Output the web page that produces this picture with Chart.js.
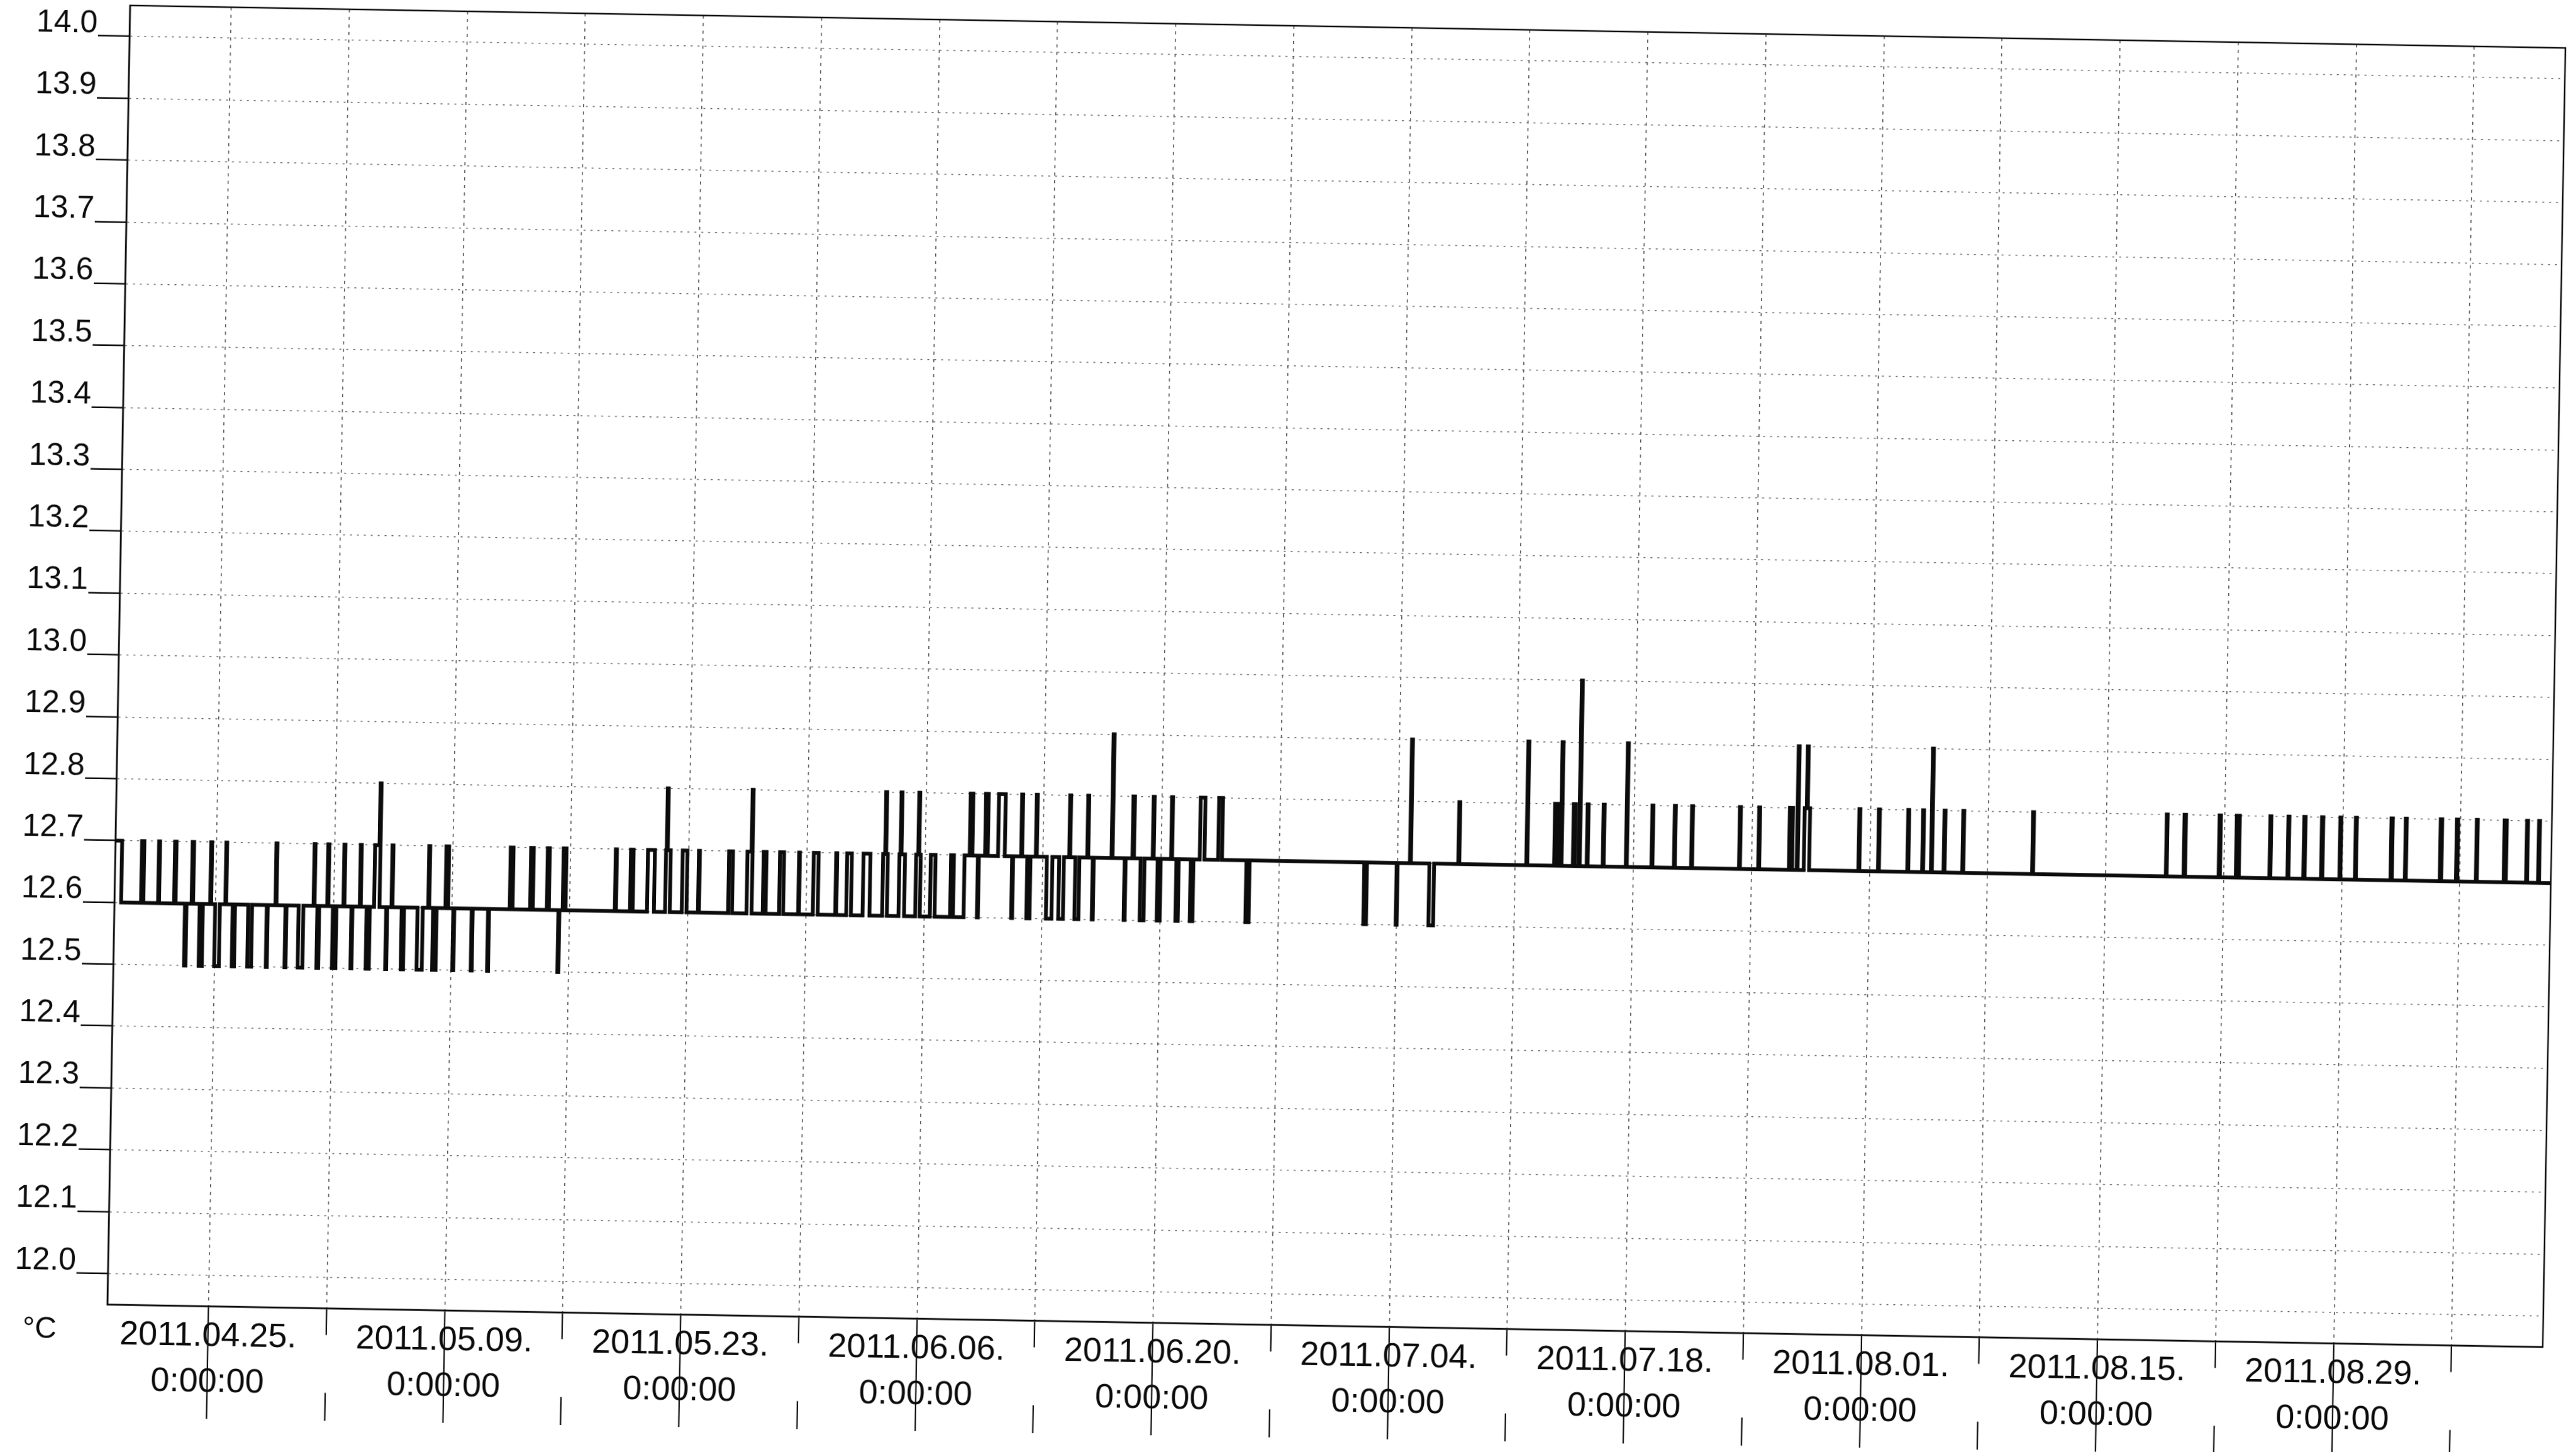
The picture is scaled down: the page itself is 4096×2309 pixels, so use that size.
<!DOCTYPE html>
<html>
<head>
<meta charset="utf-8">
<script src="https://cdn.jsdelivr.net/npm/chart.js"></script>
<style>
  html, body { margin: 0; padding: 0; background: #ffffff; overflow: hidden; }
  #wrap { width: 4096px; height: 2309px; position: relative; }
  #c { position: absolute; left: 0; top: 0; width: 4096px; height: 2309px;
       transform: rotate(1deg); transform-origin: 50% 50%; }
</style>
</head>
<body>
<div id="wrap"><canvas id="c" width="4096" height="2309"></canvas></div>
<script>
// x = days since 2011.04.25 0:00:00, y = temperature in °C (step changes)
const stepsApr = [
  [-6.0,12.7],[-5.6,12.6],[-4.42,12.7],[-4.28,12.6],[-3.41,12.7],[-3.35,12.6],
  [-2.46,12.7],[-2.37,12.6],[-1.81,12.5],[-1.72,12.6],[-1.42,12.7],[-1.33,12.6],
  [-0.94,12.5],[-0.75,12.6],[-0.32,12.7],[-0.26,12.6],[-0.02,12.5],[0.26,12.6],
  [0.58,12.7],[0.63,12.6],[1.02,12.5],[1.16,12.6],[1.94,12.5],[2.17,12.6],
  [3.04,12.5],[3.10,12.6],[3.55,12.7],[3.61,12.6],[4.15,12.5],[4.21,12.6],
  [4.93,12.5],[5.21,12.6],[5.81,12.7],[5.87,12.6]
];
const stepsMay = [
  [6.04,12.5],[6.15,12.6],[6.62,12.7],[6.69,12.6],[6.96,12.5],[7.17,12.6],
  [7.58,12.7],[7.64,12.6],[8.06,12.5],[8.12,12.6],[8.55,12.7],[8.61,12.6],
  [8.96,12.5],[9.15,12.6],[9.40,12.7],[9.66,12.8],[9.72,12.6],
  [10.12,12.5],[10.18,12.6],[10.43,12.7],[10.49,12.6],[11.04,12.5],[11.18,12.6],
  [11.98,12.5],[12.29,12.6],[12.61,12.7],[12.67,12.6],[12.90,12.5],[13.11,12.6],
  [13.63,12.7],[13.79,12.6],[14.10,12.5],[14.16,12.6],[15.19,12.5],[15.25,12.6],
  [16.16,12.5],[16.22,12.6],[17.44,12.7],[17.61,12.6],[18.65,12.7],[18.81,12.6],
  [19.64,12.7],[19.76,12.6],[20.33,12.5],[20.39,12.6],[20.58,12.7],[20.75,12.6],
  [23.67,12.7],[23.74,12.6],[24.57,12.7],[24.73,12.6],[25.58,12.7],[25.99,12.6],
  [26.65,12.7],[26.69,12.8],[26.75,12.7],[26.93,12.6],[27.64,12.7],[27.92,12.6],
  [28.60,12.7],[28.66,12.6],[30.39,12.7],[30.62,12.6],
  [31.48,12.7],[31.72,12.8],[31.78,12.6],[32.44,12.7],[32.61,12.6],
  [33.41,12.7],[33.65,12.6],[34.54,12.7],[34.59,12.6],[35.41,12.7],[35.70,12.6],
  [36.74,12.7],[36.80,12.6]
];
const stepsJun = [
  [37.39,12.7],[37.67,12.6],[38.36,12.7],[38.77,12.6],
  [39.52,12.7],[39.64,12.8],[39.70,12.7],[39.80,12.6],
  [40.49,12.7],[40.55,12.8],[40.61,12.7],[40.82,12.6],
  [41.48,12.7],[41.60,12.8],[41.66,12.7],[41.75,12.6],
  [42.35,12.7],[42.63,12.6],[43.55,12.7],[43.72,12.6],
  [44.35,12.7],[44.65,12.8],[44.81,12.7],[45.14,12.6],[45.20,12.7],
  [45.56,12.8],[45.72,12.7],[46.33,12.8],[46.73,12.7],[47.17,12.6],[47.23,12.7],
  [47.70,12.8],[47.76,12.7],[48.07,12.6],[48.26,12.7],[48.57,12.8],[48.63,12.7],
  [49.23,12.6],[49.56,12.7],[49.96,12.6],[50.24,12.7],[50.55,12.8],[50.61,12.7],
  [50.92,12.6],[51.16,12.7],[51.62,12.8],[51.68,12.7],[51.95,12.6],[52.01,12.7],
  [53.06,12.9],[53.12,12.7],[53.84,12.6],[53.90,12.7],[54.30,12.8],[54.39,12.7],
  [54.79,12.6],[55.02,12.7],[55.50,12.8],[55.56,12.7],[55.80,12.6],[55.98,12.7],
  [56.59,12.8],[56.65,12.7],[56.91,12.6],[57.05,12.7],[57.76,12.6],[57.92,12.7],
  [58.29,12.8],[58.57,12.7],[59.38,12.8],[59.61,12.7],[61.06,12.6],[61.25,12.7]
];
const stepsJul = [
  [68.05,12.6],[68.21,12.7],[69.97,12.6],[70.03,12.7],[70.75,12.9],[70.81,12.7],
  [71.91,12.6],[72.19,12.7],[73.62,12.8],[73.68,12.7],[77.65,12.9],[77.71,12.7],
  [79.30,12.8],[79.49,12.7],[79.68,12.9],[79.74,12.7],[80.41,12.8],[80.53,12.7],
  [80.76,13.0],[80.82,12.7],[81.23,12.8],[81.29,12.7],[82.18,12.8],[82.24,12.7],
  [83.55,12.9],[83.61,12.7],[85.07,12.8],[85.13,12.7],[86.40,12.8],[86.46,12.7],
  [87.42,12.8],[87.48,12.7],[90.26,12.8],[90.32,12.7],[91.40,12.8],[91.46,12.7],
  [93.22,12.8],[93.41,12.7],[93.68,12.9],[93.74,12.7],
  [94.10,12.8],[94.22,12.9],[94.28,12.8],[94.42,12.7],[97.34,12.8],[97.40,12.7]
];
const stepsAug = [
  [98.50,12.8],[98.56,12.7],[100.24,12.8],[100.30,12.7],[101.12,12.8],[101.18,12.7],
  [101.64,12.9],[101.70,12.7],[102.39,12.8],[102.45,12.7],[103.50,12.8],[103.56,12.7],
  [107.64,12.8],[107.70,12.7],[115.57,12.8],[115.62,12.7],[116.62,12.8],[116.71,12.7],
  [118.70,12.8],[118.78,12.7],[119.72,12.8],[119.90,12.7],[121.71,12.8],[121.77,12.7],
  [122.78,12.8],[122.84,12.7],[123.72,12.8],[123.80,12.7],[124.77,12.8],[124.85,12.7],
  [125.86,12.8],[125.92,12.7],[126.78,12.8],[126.84,12.7],[128.89,12.8],[128.97,12.7]
];
const stepsSep = [
  [129.74,12.8],[129.80,12.7],[131.81,12.8],[131.90,12.7],[132.77,12.8],[132.85,12.7],
  [133.95,12.8],[134.01,12.7],[135.60,12.8],[135.73,12.7],[136.93,12.8],[136.99,12.7],
  [137.64,12.8],[137.70,12.7],[138.40,12.7]
];

const xTickDays = [0, 7, 14, 21, 28, 35, 42, 49, 56, 63, 70, 77, 84, 91, 98, 105, 112, 119, 126, 133];
const xLabelDates = ['2011.04.25.', '2011.05.09.', '2011.05.23.', '2011.06.06.', '2011.06.20.',
                     '2011.07.04.', '2011.07.18.', '2011.08.01.', '2011.08.15.', '2011.08.29.'];
const xLabelTime = '0:00:00';
const yTicks = [12.0, 12.1, 12.2, 12.3, 12.4, 12.5, 12.6, 12.7, 12.8, 12.9, 13.0,
                13.1, 13.2, 13.3, 13.4, 13.5, 13.6, 13.7, 13.8, 13.9, 14.0];
const unitLabel = '°C';

const allSteps = [].concat(stepsApr, stepsMay, stepsJun, stepsJul, stepsAug, stepsSep);
const points = allSteps.map(p => ({ x: p[0], y: p[1] }));

const INK = '#0c0c0c';
const FONT = '"Liberation Sans", Arial, sans-serif';

const framePlugin = {
  id: 'frame',
  afterDraw(chart) {
    const { ctx, chartArea: a } = chart;
    ctx.save();
    ctx.strokeStyle = INK;
    ctx.lineWidth = 2.5;
    ctx.strokeRect(a.left, a.top, a.right - a.left, a.bottom - a.top);
    ctx.fillStyle = INK;
    ctx.font = '48px ' + FONT;
    ctx.textAlign = 'center';
    ctx.textBaseline = 'middle';
    ctx.fillText(unitLabel, 80, 2149);
    ctx.restore();
  }
};

new Chart(document.getElementById('c'), {
  type: 'line',
  data: {
    datasets: [{
      data: points,
      stepped: true,
      borderColor: INK,
      borderWidth: 6,
      pointRadius: 0,
      fill: false,
      tension: 0
    }]
  },
  options: {
    responsive: false,
    animation: false,
    devicePixelRatio: 1,
    layout: { padding: { top: 41, right: 36, left: 0, bottom: 0 } },
    plugins: { legend: { display: false }, tooltip: { enabled: false } },
    scales: {
      x: {
        type: 'linear',
        min: -6,
        max: 138.4,
        afterBuildTicks(scale) { scale.ticks = xTickDays.map(v => ({ value: v })); },
        afterFit(scale) { scale.height = 202; },
        ticks: {
          autoSkip: false,
          maxRotation: 0,
          minRotation: 0,
          padding: -167,
          color: INK,
          font: { family: FONT, size: 54, lineHeight: 1.35 },
          callback(value) {
            if (value % 14 === 0) return [xLabelDates[value / 14], xLabelTime];
            return '';
          }
        },
        grid: {
          color: '#555555',
          lineWidth: 1.6,
          tickLength: 179,
          tickColor: INK,
          tickWidth: 2.2,
          tickBorderDash: (c) => (c.tick && c.tick.value % 14 !== 0) ? [41, 92, 46, 10] : []
        },
        border: { display: true, color: INK, width: 2.5, dash: [5, 7] }
      },
      y: {
        type: 'linear',
        min: 11.95,
        max: 14.05,
        afterBuildTicks(scale) { scale.ticks = yTicks.map(v => ({ value: v })); },
        afterFit(scale) { scale.width = 187; },
        ticks: {
          padding: 1,
          labelOffset: -19,
          color: INK,
          font: { family: FONT, size: 50 },
          callback(value) { return Number(value).toFixed(1); }
        },
        grid: {
          color: '#606060',
          lineWidth: 1.6,
          tickLength: 50,
          tickColor: INK,
          tickWidth: 2.6,
          tickBorderDash: []
        },
        border: { display: true, color: INK, width: 2.5, dash: [3, 8] }
      }
    }
  },
  plugins: [framePlugin]
});
</script>
</body>
</html>
